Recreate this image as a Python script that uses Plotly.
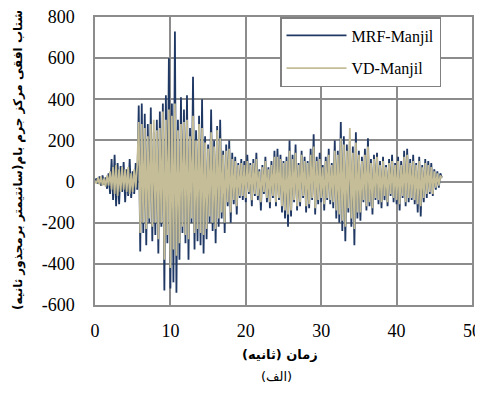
import plotly.graph_objects as go

dt = 0.2
mrf_manjil = [
    0, 15, -10, 25, -20, 30, -15, 20, -35, 40,
    -60, 110, -90, 130, -120, 90, -110, 75, -50, 95,
    -100, 60, -70, 110, -80, 50, -60, 90, -40, 370,
    -340, 380, -250, 330, -310, 280, -200, 360, -290, 240,
    -260, 300, -350, 340, -220, 380, -530, 420, -300, 600,
    -520, 380, -490, 730, -540, 300, -380, 410, -250, 350,
    -300, 420, -380, 260, -200, 510, -330, 250, -290, 320,
    -310, 400, -350, 220, -280, 180, -200, 350, -240, 200,
    -300, 270, -220, 300, -180, 150, -250, 180, -120, 200,
    -200, 140, -110, 120, -160, 90, -80, 110, -90, 100,
    -100, 130, -60, 90, -120, 110, -70, 140, -90, 60,
    -140, 80, -60, 120, -100, 70, -130, 100, -80, 150,
    -120, 160, -90, 130, -150, 100, -180, 120, -220, 200,
    -170, 130, -100, 180, -140, 90, -120, 150, -80, 120,
    -150, 100, -130, 160, -90, 230, -160, 120, -110, 140,
    -100, 80, -140, 120, -90, 160, -110, 90, -130, 200,
    -180, 150, -200, 290, -240, 220, -290, 180, -150, 200,
    -220, 170, -310, 240, -180, 150, -190, 120, -100, 160,
    -140, 210, -120, 110, -160, 130, -90, 140, -110, 100,
    -130, 120, -90, 80, -120, 110, -70, 130, -100, 90,
    -110, 120, -140, 100, -80, 150, -120, 160, -100, 110,
    -90, 130, -110, 90, -150, 120, -170, 80, -100, 110,
    -80, 100, -60, 90, -70, 60, -40, 50, -30, 40,
    20,
]
vd_manjil = [
    5, -10, 20, -15, 25, -20, 15, -25, 30, -20,
    50, -40, 70, -60, 80, -70, 60, -50, 70, -40,
    60, -50, 70, -60, 40, -50, 60, -30, 80, 290,
    -250, 280, -200, 260, -230, 220, -180, 280, -220, 300,
    -200, 250, -280, 260, -200, 340, -380, 300, -260, 350,
    -420, 320, -330, 380, -360, 250, -300, 280, -220, 290,
    -260, 300, -280, 220, -180, 320, -250, 200, -230, 280,
    -250, 260, -260, 190, -230, 160, -170, 240, -200, 170,
    -230, 250, -180, 210, -150, 130, -200, 150, -100, 160,
    -150, 110, -90, 100, -120, 80, -70, 90, -70, 80,
    -80, 100, -50, 80, -90, 90, -60, 110, -70, 50,
    -100, 70, -50, 100, -80, 60, -100, 80, -70, 120,
    -100, 120, -80, 110, -120, 90, -140, 100, -160, 150,
    -140, 110, -90, 140, -120, 80, -100, 130, -70, 100,
    -120, 90, -110, 130, -80, 170, -130, 100, -90, 110,
    -80, 70, -110, 100, -80, 130, -90, 80, -100, 150,
    -140, 130, -160, 210, -190, 180, -220, 150, -130, 260,
    -180, 140, -230, 190, -150, 130, -150, 100, -90, 130,
    -120, 170, -100, 90, -130, 110, -80, 120, -90, 80,
    -100, 100, -70, 70, -100, 90, -60, 100, -80, 80,
    -90, 100, -110, 80, -70, 120, -100, 130, -80, 90,
    -80, 100, -90, 80, -110, 100, -120, 70, -80, 90,
    -60, 80, -50, 70, -60, 50, -30, 40, -20, 30,
    15,
]
time_s = [round(i * dt, 2) for i in range(len(mrf_manjil))]

x_ticks = [0, 10, 20, 30, 40, 50]
y_ticks = [-600, -400, -200, 0, 200, 400, 600, 800]
y_tick_labels = ["-600", "-400", "-200", "0", "200", "400", "600", "800"]

fig = go.Figure()
fig.add_trace(go.Scatter(x=time_s, y=mrf_manjil, mode="lines", name="MRF-Manjil",
                         line=dict(color="#1F3864", width=1.8), legendgroup="a"))
fig.add_trace(go.Scatter(x=time_s, y=vd_manjil, mode="lines", name="VD-Manjil",
                         line=dict(color="#C4BD97", width=1.8), legendgroup="b"))

# page offset (browser body margin) compensation; keep page height within the window
ox, oy = 8, 9
L, T, PW, PH = 95 - ox, 18 - oy, 377, 288
W, H = 483 - ox, 395 - oy - 8


def px(xp):
    return (xp - 95) / PW


def py(yp):
    return 1 - (yp - 18) / PH


grid = "#8C8C8C"
serif = "Liberation Serif, Times New Roman, serif"
tickfont = dict(family=serif, size=18, color="black")
fig.update_layout(
    width=W, height=H,
    margin=dict(l=L, r=W - L - PW, t=T, b=H - T - PH),
    paper_bgcolor="white", plot_bgcolor="white",
    font=dict(family=serif, size=18, color="black"),
    showlegend=True,
    legend=dict(x=px(280), y=1.0, xanchor="left", yanchor="top",
                bgcolor="white", bordercolor="#808080", borderwidth=1.5,
                font=dict(family=serif, size=16, color="black"),
                tracegroupgap=9, traceorder="grouped", itemwidth=60),
    xaxis=dict(range=[0, 50], tickvals=x_ticks, showgrid=True, gridcolor=grid, gridwidth=1.5,
               showline=True, linecolor=grid, linewidth=1.5, mirror=True, zeroline=False,
               ticks="", ticklabelstandoff=9, automargin=False, tickfont=tickfont,
               ticklabeloverflow="allow"),
    yaxis=dict(range=[-600, 800], tickvals=y_ticks, ticktext=y_tick_labels, showgrid=True,
               gridcolor=grid, gridwidth=1.5, showline=True, linecolor=grid, linewidth=1.5,
               mirror=True, zeroline=False, ticks="", ticklabelstandoff=15, automargin=False,
               tickfont=tickfont, ticklabeloverflow="allow"),
    annotations=[
        dict(text="<b>شتاب افقی مرکز جرم بام(سانتیمتر برمجذور ثانیه)</b>", textangle=-90,
             xref="paper", yref="paper", x=px(18), y=py(161),
             xanchor="center", yanchor="middle", showarrow=False,
             font=dict(family="DejaVu Sans", size=12, color="black")),
        dict(text="<b>زمان (ثانیه)</b>", xref="paper", yref="paper",
             x=px(280), y=py(355), xanchor="center", yanchor="middle",
             showarrow=False, font=dict(family="DejaVu Sans", size=13, color="black")),
        dict(text="(الف)", xref="paper", yref="paper",
             x=px(276), y=py(377), xanchor="center", yanchor="middle",
             showarrow=False, font=dict(family="DejaVu Sans", size=13, color="black")),
    ],
)
fig.write_html("out.html")
